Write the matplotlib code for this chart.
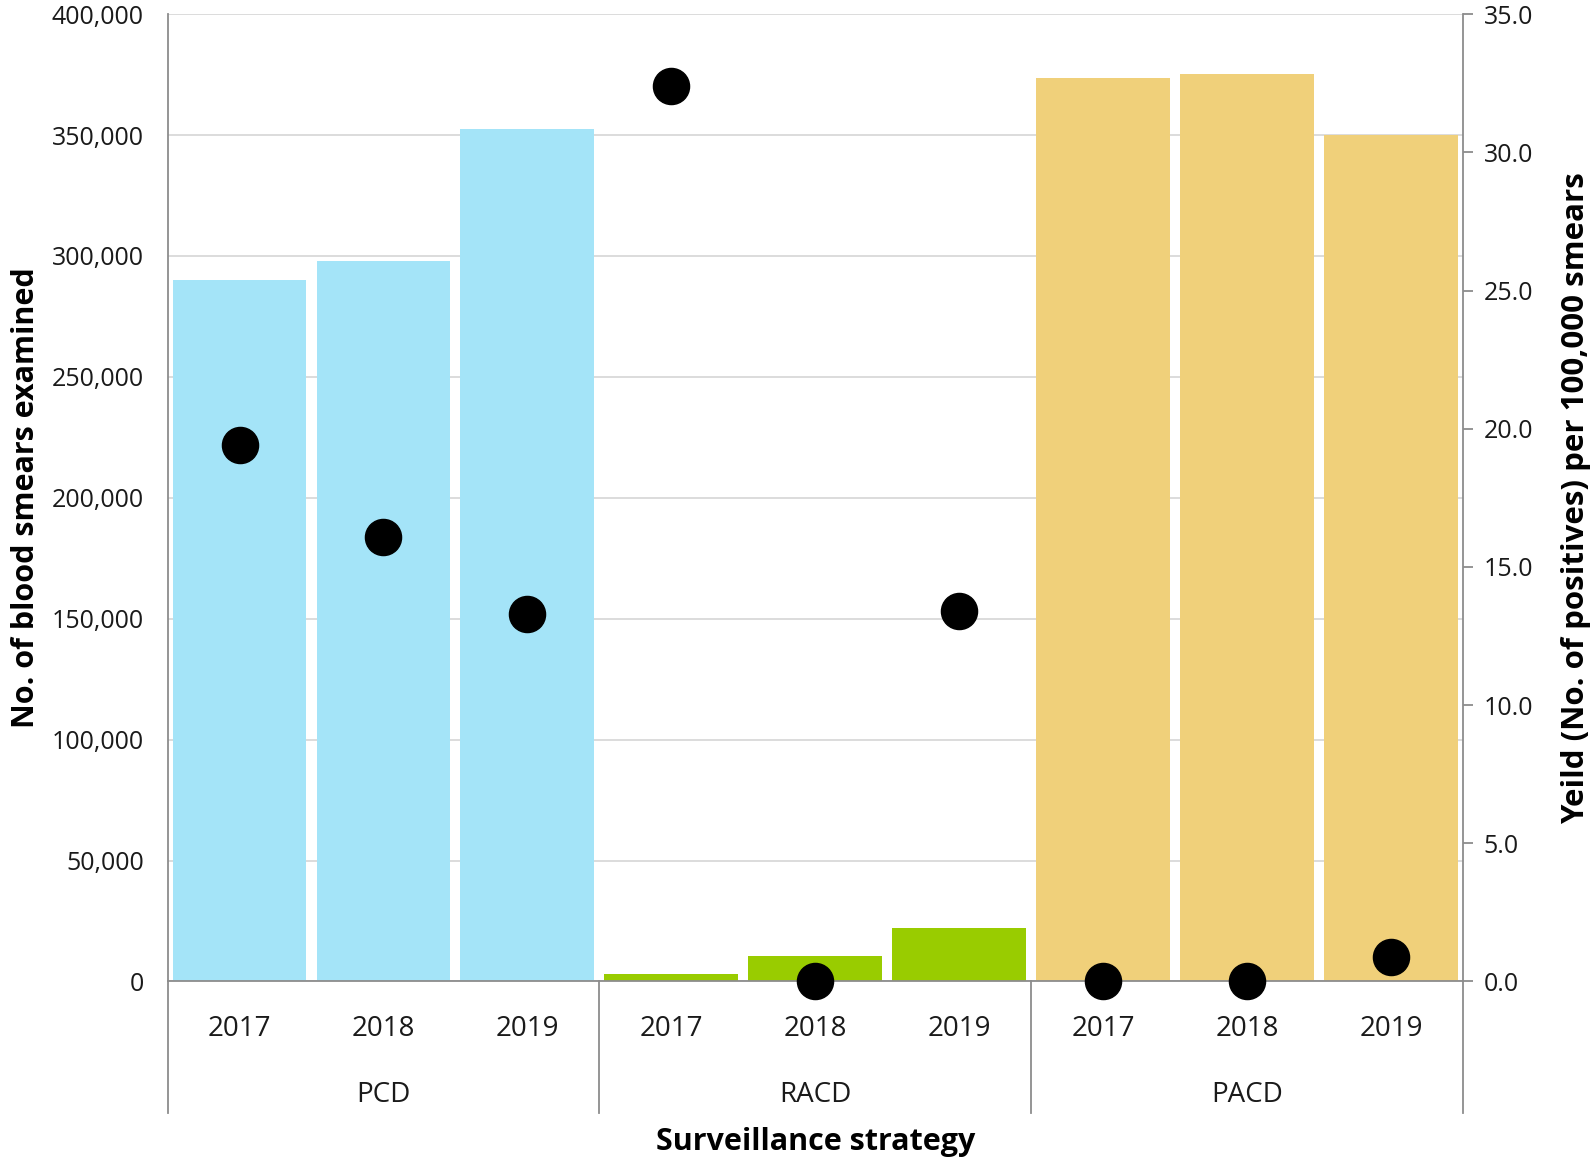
import matplotlib
matplotlib.use("Agg")
import matplotlib.pyplot as plt
import matplotlib.transforms as mtransforms
from matplotlib.lines import Line2D
from matplotlib.ticker import FuncFormatter, MultipleLocator

plt.rcParams['font.family'] = ['Open Sans', 'DejaVu Sans']

# data
strategies = ['PCD', 'RACD', 'PACD']
years = ['2017', '2018', '2019']
smears_pcd = [290000, 298000, 352500]
smears_racd = [3000, 10600, 22000]
smears_pacd = [373800, 375300, 350200]
yield_pcd = [19.4, 16.1, 13.3]
yield_racd = [32.4, 0.0, 13.4]
yield_pacd = [0.0, 0.0, 0.9]

colors = ['#a4e4f8', '#99cc00', '#f0d07a']

fig = plt.figure(figsize=(15.93, 11.60), dpi=100, facecolor='white')
ax = fig.add_axes([0.1052, 0.1539, 0.8132, 0.8339])

smears = [smears_pcd, smears_racd, smears_pacd]
yields = [yield_pcd, yield_racd, yield_pacd]

x_labels = []
x_all = []
y_all = []
for g, (name, vals) in enumerate(zip(strategies, smears)):
    xs = [g * 3 + i for i in range(3)]
    ax.bar(xs, vals, width=0.93, color=colors[g], zorder=2)
    x_all += xs
    y_all += yields[g]
    x_labels += years

ax.set_xlim(-0.5, 8.5)
ax.set_ylim(0, 400000)
ax.yaxis.set_major_locator(MultipleLocator(50000))
ax.yaxis.set_major_formatter(FuncFormatter(lambda v, p: f'{int(v):,}'))
ax.grid(axis='y', color='#d9d9d9', linewidth=1.3, zorder=0)
ax.set_axisbelow(True)
ax.tick_params(axis='y', length=0, labelsize=18, pad=17, labelcolor='#1a1a1a')
ax.set_xticks(x_all)
ax.set_xticklabels(x_labels)
ax.tick_params(axis='x', length=0, labelsize=20, pad=24, labelcolor='#1a1a1a')

for side in ['top', 'right']:
    ax.spines[side].set_visible(False)
for side in ['left', 'bottom']:
    ax.spines[side].set_color('#8c8c8c')
    ax.spines[side].set_linewidth(1.3)

# group labels and separators below the axis
trans = mtransforms.blended_transform_factory(ax.transData, ax.transAxes)
for g, name in enumerate(strategies):
    ax.text(g * 3 + 1, -0.117, name, transform=trans, ha='center', va='center',
            fontsize=20, color='#1a1a1a')
for xb in [-0.5, 2.5, 5.5, 8.5]:
    ax.add_line(Line2D([xb, xb], [0, -0.1355], transform=trans, color='#8c8c8c',
                       linewidth=1.3, clip_on=False))

ax.text(0.5, -0.166, 'Surveillance strategy', transform=ax.transAxes, ha='center',
        va='center', fontsize=22, fontweight='bold')
ax.set_ylabel('No. of blood smears examined', fontsize=22, fontweight='bold', labelpad=8)

ax2 = ax.twinx()
ax2.set_ylim(0, 35)
ax2.yaxis.set_major_locator(MultipleLocator(5))
ax2.yaxis.set_major_formatter(FuncFormatter(lambda v, p: f'{v:.1f}'))
ax2.plot(x_all, y_all, 'o', color='black', markersize=26, clip_on=False, zorder=5)
ax2.tick_params(axis='y', length=7, width=1.3, color='#8c8c8c', labelsize=18, pad=8,
                labelcolor='#1a1a1a')
for side in ['top', 'left', 'bottom']:
    ax2.spines[side].set_visible(False)
ax2.spines['right'].set_color('#8c8c8c')
ax2.spines['right'].set_linewidth(1.3)
ax2.set_ylabel('Yeild (No. of positives) per 100,000 smears', fontsize=22.5,
               fontweight='bold', labelpad=20)

fig.savefig('out.png', dpi=100)
